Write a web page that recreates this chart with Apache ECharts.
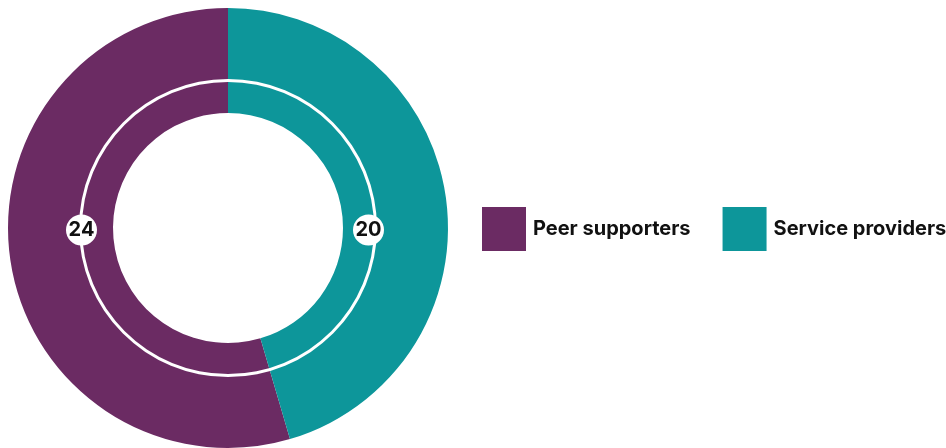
<!DOCTYPE html>
<html>
	<head>
		<meta charset="utf-8">
		<title>ECharts</title>
		<script src="https://cdn.jsdelivr.net/npm/echarts@6/dist/echarts.min.js"></script>
		<style>
			html, body { margin: 0; padding: 0; background: #fff; }
		</style>
	</head>
	<body>
		<div id="main" style="width: 946px;height: 448px;"></div>
		<script type="text/javascript">
			// data
			var categories = ['Peer supporters', 'Service providers'];
			var values = [24, 20];
			var colors = ['#6b2b63', '#0d969a'];

			var chartDom = document.getElementById('main');
			var myChart = echarts.init(chartDom);
			var option;

			var center = [228, 228];
			var font = 'Inter, "Noto Sans", sans-serif';
			// small nudges so the badges sit where the original puts them
			var badgeOffsets = [[4, 2], [-10, 2]];

			option = {
				animation: false,
				legend: {
					orient: 'horizontal',
					left: 482,
					top: 207,
					width: 470,
					padding: 0,
					itemWidth: 44,
					itemHeight: 44,
					itemGap: 32,
					icon: 'rect',
					selectedMode: false,
					data: categories,
					textStyle: {
						fontFamily: font,
						fontWeight: 'bold',
						fontSize: 20,
						color: '#111',
						padding: [0, 0, 0, 2]
					}
				},
				series: [{
					// main donut
					type: 'pie',
					center: center,
					radius: [115, 220],
					startAngle: 90,
					clockwise: false,
					silent: true,
					label: { show: false },
					labelLine: { show: false },
					data: categories.map(function (c, i) {
						return { name: c, value: values[i], itemStyle: { color: colors[i] } };
					})
				}, {
					// white ring
					type: 'pie',
					center: center,
					radius: [146, 149],
					silent: true,
					label: { show: false },
					labelLine: { show: false },
					itemStyle: { color: '#fff' },
					data: [{ name: 'ring', value: 1 }]
				}, {
					// value badges, left and right on the ring
					type: 'pie',
					center: center,
					radius: [130, 165],
					startAngle: 270,
					clockwise: true,
					silent: true,
					itemStyle: { color: 'rgba(0,0,0,0)' },
					labelLine: { show: false },
					label: {
						show: true,
						position: 'inside',
						formatter: function (p) { return values[p.dataIndex]; },
						backgroundColor: '#fff',
						width: 31,
						height: 31,
						lineHeight: 32,
						borderRadius: 16,
						align: 'center',
						color: '#111',
						fontFamily: font,
						fontWeight: 'bold',
						fontSize: 20
					},
					data: values.map(function (v, i) {
						return { name: categories[i], value: 1, label: { offset: badgeOffsets[i] } };
					})
				}]
			};

			option && myChart.setOption(option);
		</script>
	</body>
</html>
